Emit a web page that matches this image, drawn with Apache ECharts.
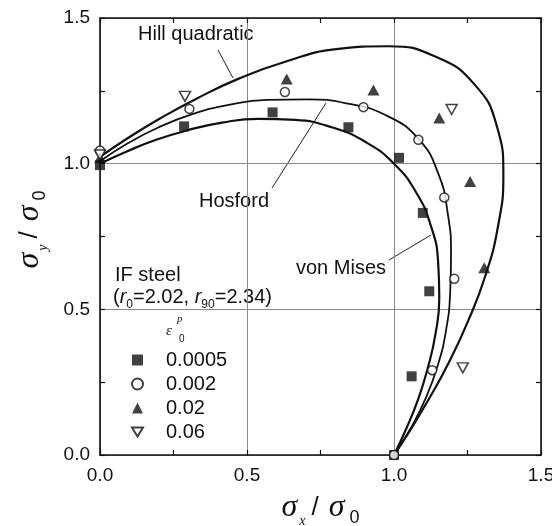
<!DOCTYPE html>
<html>
<head>
<meta charset="utf-8">
<script src="https://cdn.jsdelivr.net/npm/echarts@6/dist/echarts.min.js"></script>
<style>
  html, body { margin: 0; padding: 0; background: #fff; }
  #main { width: 552px; height: 526px; }
</style>
</head>
<body>
<div id="main"></div>
<script>
// Yield loci (sigma_x / sigma_0, sigma_y / sigma_0), first quadrant
const hillQuadratic = [
  [0, 1.023], [0.095, 1.088], [0.204, 1.155], [0.328, 1.223], [0.470, 1.291],
  [0.630, 1.350], [0.804, 1.393], [0.982, 1.403], [1.146, 1.365], [1.273, 1.273],
  [1.349, 1.132], [1.372, 0.961], [1.353, 0.781], [1.309, 0.610], [1.250, 0.455],
  [1.187, 0.318], [1.122, 0.198], [1.060, 0.093], [1.0, 0]
];
const hosford = [
  [0, 1.008], [0.093, 1.069], [0.198, 1.124], [0.314, 1.170], [0.438, 1.202],
  [0.568, 1.219], [0.705, 1.221], [0.844, 1.206], [0.977, 1.164], [1.084, 1.084],
  [1.151, 0.965], [1.183, 0.828], [1.194, 0.689], [1.191, 0.556], [1.177, 0.428],
  [1.149, 0.308], [1.108, 0.195], [1.057, 0.092], [1.0, 0]
];
const vonMises = [
  [0, 1.0], [0.091, 1.042], [0.191, 1.082], [0.299, 1.115], [0.415, 1.141],
  [0.538, 1.154], [0.664, 1.150], [0.788, 1.125], [0.902, 1.075], [1.0, 1.0],
  [1.075, 0.902], [1.125, 0.788], [1.150, 0.664], [1.154, 0.538], [1.141, 0.415],
  [1.115, 0.299], [1.082, 0.191], [1.042, 0.091], [1.0, 0]
];

// Measured yield points for each plastic work level
const strainLabels = ['0.0005', '0.002', '0.02', '0.06'];
const points0005 = [
  [0, 0.995], [0.286, 1.128], [0.587, 1.176], [0.845, 1.125], [1.017, 1.020],
  [1.098, 0.831], [1.120, 0.562], [1.060, 0.270], [1.0, 0]
];
const points002 = [
  [0, 1.045], [0.304, 1.188], [0.629, 1.246], [0.896, 1.194], [1.083, 1.082],
  [1.171, 0.884], [1.205, 0.605], [1.130, 0.291], [1.0, 0]
];
const points02 = [
  [0, 1.020], [0.635, 1.291], [0.930, 1.253], [1.154, 1.157], [1.259, 0.939],
  [1.307, 0.643]
];
const points06 = [
  [0, 1.030], [0.289, 1.231], [1.196, 1.186], [1.234, 0.299]
];

const axisTicks = [0, 0.5, 1.0, 1.5];

const INK = '#111';
const SANS = 'Liberation Sans, Arial, sans-serif';
const SERIF = 'Liberation Serif, Times New Roman, serif';

const chart = echarts.init(document.getElementById('main'), null, { renderer: 'canvas' });

function frameAxis(position, showLabels) {
  return {
    type: 'value',
    position: position,
    min: axisTicks[0],
    max: axisTicks[axisTicks.length - 1],
    interval: axisTicks[1] - axisTicks[0],
    axisLine: { show: true, onZero: false, lineStyle: { color: INK, width: 1.6 } },
    axisTick: { show: true, inside: true, length: 5, lineStyle: { color: INK, width: 1.2 } },
    minorTick: { show: true, splitNumber: 2, length: 5, lineStyle: { color: INK, width: 1.2 } },
    splitLine: { show: showLabels, lineStyle: { color: '#8a8a8a', width: 1 } },
    axisLabel: {
      show: showLabels,
      formatter: v => v.toFixed(1),
      color: INK,
      fontFamily: SANS,
      fontSize: 19,
      margin: 10
    }
  };
}

// axis title: sigma with subscript over sigma_0
const titleRich = {
  s: { fontFamily: SERIF, fontStyle: 'italic', fontSize: 32, color: INK },
  sub: { fontFamily: SERIF, fontStyle: 'italic', fontSize: 14, color: INK, padding: [26, 4, 0, 2] },
  t: { fontFamily: SANS, fontSize: 26, color: INK, padding: [0, 10, 0, 2] },
  s0: { fontFamily: SANS, fontSize: 18, color: INK, padding: [20, 0, 0, 5] }
};

const xBottom = frameAxis('bottom', true);
xBottom.axisLabel.margin = 11;
xBottom.name = '{s|σ}{sub|x}{t|/}{s|σ}{s0|0}';
xBottom.nameLocation = 'middle';
xBottom.nameGap = 33;
xBottom.nameTextStyle = { color: INK, rich: titleRich };

const yLeft = frameAxis('left', true);
yLeft.name = '{s|σ}{sub|y}{t|/}{s|σ}{s0|0}';
yLeft.nameLocation = 'middle';
yLeft.nameRotate = 90;
yLeft.nameGap = 50;
yLeft.nameTextStyle = { color: INK, rich: titleRich, padding: [0, 0, 0, 14] };

const curveStyle = (w) => ({ color: INK, width: w });

const option = {
  animation: false,
  backgroundColor: '#fff',
  grid: { left: 100, top: 18, right: 11, bottom: 71, containLabel: false, outerBoundsMode: 'none' },
  xAxis: [xBottom, frameAxis('top', false)],
  yAxis: [yLeft, frameAxis('right', false)],
  legend: {
    data: strainLabels,
    orient: 'vertical',
    left: 126,
    top: 345,
    itemWidth: 11,
    itemHeight: 11,
    itemGap: 4,
    textStyle: { color: INK, fontFamily: SANS, fontSize: 20, padding: [0, 0, 0, 18] },
    selectedMode: false
  },
  series: [
    { type: 'line', data: hillQuadratic, smooth: true, showSymbol: false, silent: true,
      lineStyle: curveStyle(2.2), z: 2 },
    { type: 'line', data: hosford, smooth: true, showSymbol: false, silent: true,
      lineStyle: curveStyle(1.8), z: 2 },
    { type: 'line', data: vonMises, smooth: true, showSymbol: false, silent: true,
      lineStyle: curveStyle(2.2), z: 2 },
    { name: strainLabels[0], type: 'scatter', data: points0005, symbol: 'rect', symbolSize: 10,
      itemStyle: { color: INK }, z: 5 },
    { name: strainLabels[1], type: 'scatter', data: points002, symbol: 'circle', symbolSize: 9,
      itemStyle: { color: '#fff', borderColor: INK, borderWidth: 1.5 }, z: 5 },
    { name: strainLabels[2], type: 'scatter', data: points02, symbol: 'triangle', symbolSize: [12, 11],
      itemStyle: { color: INK }, z: 5 },
    { name: strainLabels[3], type: 'scatter', data: points06, symbol: 'path://M0,0L12,0L6,10Z',
      symbolSize: [11, 10], itemStyle: { color: '#fff', borderColor: INK, borderWidth: 1.5 }, z: 5 }
  ],
  graphic: [
    // curve captions and their leader lines
    { type: 'text', left: 138, top: 24, style: { text: 'Hill quadratic', font: '20px ' + SANS, fill: INK } },
    { type: 'line', shape: { x1: 218, y1: 50, x2: 233, y2: 78 }, style: { stroke: '#222', lineWidth: 1 } },
    { type: 'text', left: 199, top: 191, style: { text: 'Hosford', font: '20px ' + SANS, fill: INK } },
    { type: 'line', shape: { x1: 272, y1: 188, x2: 326, y2: 103 }, style: { stroke: '#222', lineWidth: 1 } },
    { type: 'text', left: 296, top: 258, style: { text: 'von Mises', font: '20px ' + SANS, fill: INK } },
    { type: 'line', shape: { x1: 389, y1: 260, x2: 431, y2: 235 }, style: { stroke: '#222', lineWidth: 1 } },
    // material block
    { type: 'text', left: 115, top: 265, style: { text: 'IF steel', font: '20px ' + SANS, fill: INK } },
    { type: 'text', left: 113, top: 287, style: {
        text: '{t|(}{i|r}{b|0}{t|=2.02, }{i|r}{b|90}{t|=2.34)}',
        rich: {
          t: { fontFamily: SANS, fontSize: 20, fill: INK },
          i: { fontFamily: SANS, fontStyle: 'italic', fontSize: 20, fill: INK },
          b: { fontFamily: SANS, fontSize: 12, fill: INK, padding: [16, 0, 0, 0] }
        }
    } },
    // legend heading: plastic strain symbol
    { type: 'text', left: 166, top: 324, style: { text: 'ε', font: 'italic 15px ' + SERIF, fill: INK } },
    { type: 'text', left: 177, top: 314, style: { text: 'p', font: 'italic 11px ' + SERIF, fill: INK } },
    { type: 'text', left: 179, top: 334, style: { text: '0', font: '10px ' + SANS, fill: INK } }
  ]
};

chart.setOption(option);
</script>
</body>
</html>
